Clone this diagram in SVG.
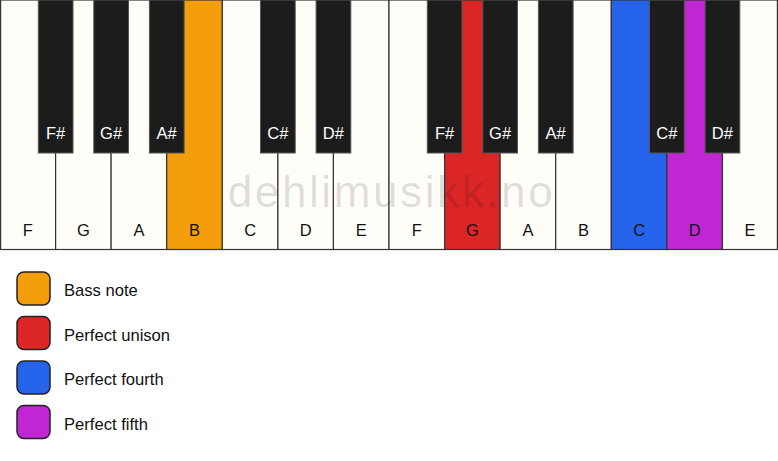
<svg xmlns="http://www.w3.org/2000/svg" width="778" height="461" viewBox="0 0 778 461">
<style>
.w{fill:#fffdf8;stroke:#333;stroke-width:1.2}
.b{fill:#1c1c1c;stroke:#555;stroke-width:1}
.wl{font-family:"Liberation Sans",Arial,sans-serif;font-size:16.5px;fill:#111;text-anchor:middle}
.bl{font-family:"Liberation Sans",Arial,sans-serif;font-size:16.5px;fill:#fff;text-anchor:middle}
.lg{stroke:#222;stroke-width:1.5}
.lt{font-family:"Liberation Sans",Arial,sans-serif;font-size:16.6px;fill:#111}
.wm{font-family:"Liberation Sans",Arial,sans-serif;font-size:44px;fill:#000;fill-opacity:0.13;text-anchor:middle;letter-spacing:2.6px}
</style>
<rect width="778" height="461" fill="#ffffff"/>
<g id="white-keys">
<g id="key-F1"><rect class="w" x="0.6" y="0" width="55" height="249.5"/><text class="wl" x="27.8" y="236">F</text></g>
<g id="key-G1"><rect class="w" x="55.6" y="0" width="55.6" height="249.5"/><text class="wl" x="83.4" y="236">G</text></g>
<g id="key-A1"><rect class="w" x="111.1" y="0" width="55.6" height="249.5"/><text class="wl" x="138.9" y="236">A</text></g>
<g id="key-B1"><rect class="w" x="166.7" y="0" width="55.6" height="249.5" style="fill:#f59e0b"/><text class="wl" x="194.5" y="236">B</text></g>
<g id="key-C1"><rect class="w" x="222.3" y="0" width="55.6" height="249.5"/><text class="wl" x="250.1" y="236">C</text></g>
<g id="key-D1"><rect class="w" x="277.9" y="0" width="55.6" height="249.5"/><text class="wl" x="305.7" y="236">D</text></g>
<g id="key-E1"><rect class="w" x="333.4" y="0" width="55.6" height="249.5"/><text class="wl" x="361.2" y="236">E</text></g>
<g id="key-F2"><rect class="w" x="389" y="0" width="55.6" height="249.5"/><text class="wl" x="416.8" y="236">F</text></g>
<g id="key-G2"><rect class="w" x="444.6" y="0" width="55.6" height="249.5" style="fill:#dc2626"/><text class="wl" x="472.4" y="236">G</text></g>
<g id="key-A2"><rect class="w" x="500.1" y="0" width="55.6" height="249.5"/><text class="wl" x="527.9" y="236">A</text></g>
<g id="key-B2"><rect class="w" x="555.7" y="0" width="55.6" height="249.5"/><text class="wl" x="583.5" y="236">B</text></g>
<g id="key-C2"><rect class="w" x="611.3" y="0" width="55.6" height="249.5" style="fill:#2563eb"/><text class="wl" x="639.1" y="236">C</text></g>
<g id="key-D2"><rect class="w" x="666.9" y="0" width="55.6" height="249.5" style="fill:#c026d3"/><text class="wl" x="694.7" y="236">D</text></g>
<g id="key-E2"><rect class="w" x="722.4" y="0" width="55" height="249.5"/><text class="wl" x="749.9" y="236">E</text></g>
</g>
<g id="black-keys">
<g id="key-Fs1"><rect class="b" x="38.3" y="0" width="34.7" height="153"/><text class="bl" x="55.6" y="139">F#</text></g>
<g id="key-Gs1"><rect class="b" x="93.8" y="0" width="34.7" height="153"/><text class="bl" x="111.1" y="139">G#</text></g>
<g id="key-As1"><rect class="b" x="149.4" y="0" width="34.7" height="153"/><text class="bl" x="166.7" y="139">A#</text></g>
<g id="key-Cs1"><rect class="b" x="260.5" y="0" width="34.7" height="153"/><text class="bl" x="277.9" y="139">C#</text></g>
<g id="key-Ds1"><rect class="b" x="316.1" y="0" width="34.7" height="153"/><text class="bl" x="333.4" y="139">D#</text></g>
<g id="key-Fs2"><rect class="b" x="427.3" y="0" width="34.7" height="153"/><text class="bl" x="444.6" y="139">F#</text></g>
<g id="key-Gs2"><rect class="b" x="482.8" y="0" width="34.7" height="153"/><text class="bl" x="500.1" y="139">G#</text></g>
<g id="key-As2"><rect class="b" x="538.4" y="0" width="34.7" height="153"/><text class="bl" x="555.7" y="139">A#</text></g>
<g id="key-Cs2"><rect class="b" x="649.6" y="0" width="34.7" height="153"/><text class="bl" x="666.9" y="139">C#</text></g>
<g id="key-Ds2"><rect class="b" x="705.1" y="0" width="34.7" height="153"/><text class="bl" x="722.4" y="139">D#</text></g>
</g>
<text class="wm" x="391.5" y="206.7">dehlimusikk.no</text>
<g id="legend">
<g id="legend-bass"><rect class="lg" x="17" y="272" width="33" height="33" rx="7" fill="#f59e0b"/><text class="lt" x="64" y="296">Bass note</text></g>
<g id="legend-unison"><rect class="lg" x="17" y="316.5" width="33" height="33" rx="7" fill="#dc2626"/><text class="lt" x="64" y="340.5">Perfect unison</text></g>
<g id="legend-fourth"><rect class="lg" x="17" y="361" width="33" height="33" rx="7" fill="#2563eb"/><text class="lt" x="64" y="385">Perfect fourth</text></g>
<g id="legend-fifth"><rect class="lg" x="17" y="405.5" width="33" height="33" rx="7" fill="#c026d3"/><text class="lt" x="64" y="429.5">Perfect fifth</text></g>
</g>
<g id="connectors"/>
</svg>
